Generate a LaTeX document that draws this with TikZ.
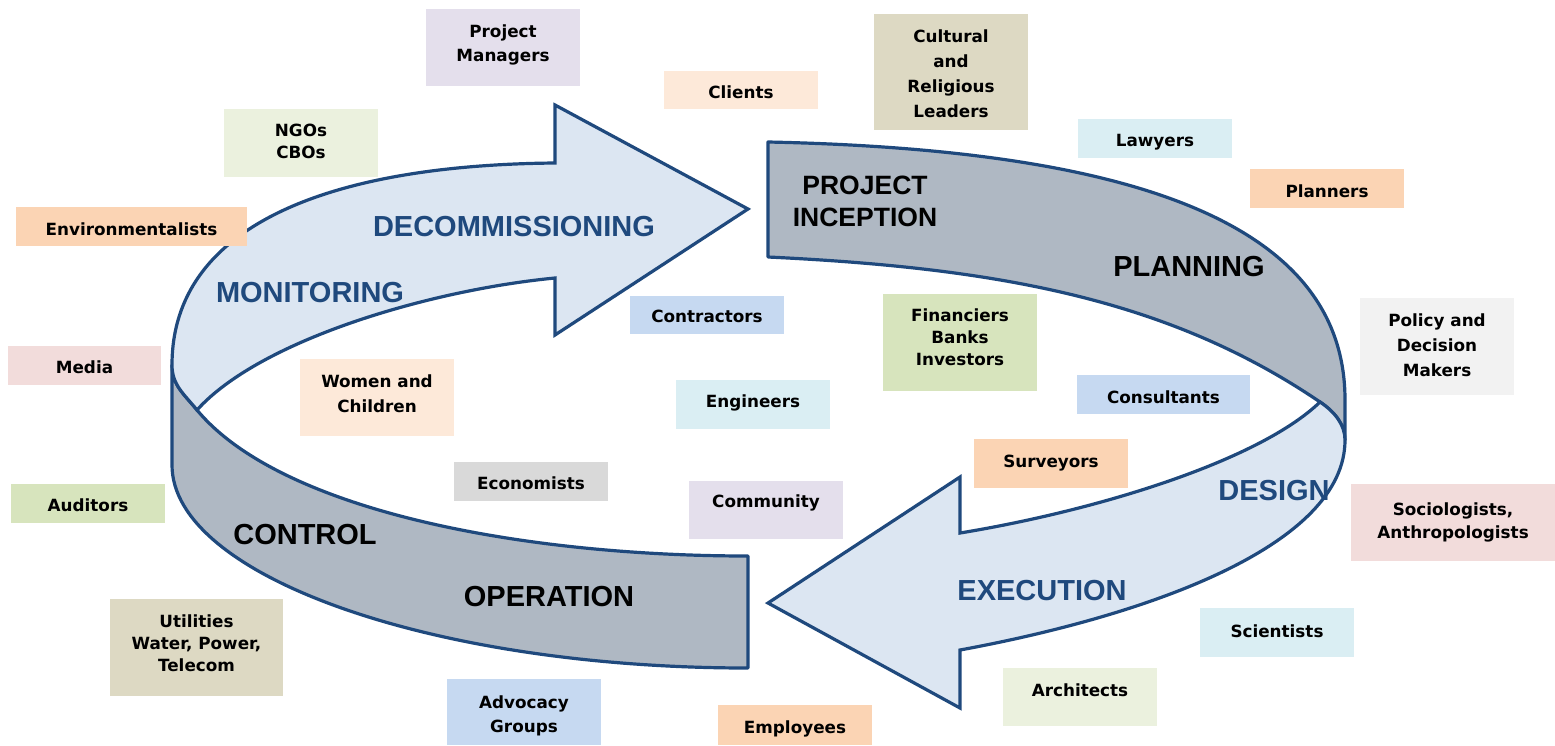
\documentclass[tikz,border=0pt]{standalone}
\usepackage{fontspec}
\newfontfamily\boxfont{DejaVu Sans}
\newfontfamily\arialfont{Liberation Sans}
\definecolor{arrowline}{HTML}{1F497D}
\definecolor{titleblue}{HTML}{1F497D}
\definecolor{arrowblue}{HTML}{DCE6F2}
\definecolor{bandgrey}{HTML}{AFB8C3}
\definecolor{cLav}{HTML}{E4DFEC}
\definecolor{cPeachL}{HTML}{FDE9D9}
\definecolor{cTan}{HTML}{DDD9C3}
\definecolor{cCyan}{HTML}{DAEEF3}
\definecolor{cPeach}{HTML}{FBD4B4}
\definecolor{cGreenL}{HTML}{EBF1DE}
\definecolor{cBlue}{HTML}{C6D9F1}
\definecolor{cGreen}{HTML}{D7E4BD}
\definecolor{cGreyL}{HTML}{F2F2F2}
\definecolor{cPink}{HTML}{F2DCDB}
\definecolor{cGrey}{HTML}{D9D9D9}
\begin{document}
\begin{tikzpicture}[x=1pt,y=-1pt,
  bandshape/.style={draw=arrowline, line width=3.2pt, line join=round, fill=bandgrey},
  arrowshape/.style={draw=arrowline, line width=3.2pt, line join=miter, fill=arrowblue},
  stk/.style={fill=#1, inner sep=0pt},
  stxt/.style={inner sep=0pt, align=center, text=black,
    font=\boxfont\bfseries\fontsize{16.8}{24.5}\selectfont},
  sp22/.style={font=\boxfont\bfseries\fontsize{16.8}{22}\selectfont},
  sp25/.style={font=\boxfont\bfseries\fontsize{16.8}{25}\selectfont},
  sp23/.style={font=\boxfont\bfseries\fontsize{16.8}{23}\selectfont},
  bigblue/.style={inner sep=0pt, align=center, text=titleblue,
    font=\arialfont\bfseries\fontsize{29}{32}\selectfont},
  bigblack/.style={inner sep=0pt, align=center, text=black,
    font=\arialfont\bfseries\fontsize{29}{32}\selectfont}]
\useasboundingbox (0,0) rectangle (1555,745);
\fill[white] (0,0) rectangle (1555,745);

% left grey band (control / operation)
\path[bandshape] (172,365) -- (172,465) .. controls (172,575) and (430,668) .. (748,668)
  -- (748,556) .. controls (520,556) and (280,510) .. (197,410)
  .. controls (184,394) and (172,385) .. (172,365) -- cycle;
% top arrow (monitoring / decommissioning)
\path[arrowshape] (172,365) .. controls (172,225) and (330,165) .. (555,163)
  -- (555,105) -- (748,209) -- (555,335) -- (555,278)
  .. controls (430,290) and (260,340) .. (197,410)
  .. controls (184,394) and (172,385) .. (172,365) -- cycle;
% right grey band (inception / planning)
\path[bandshape] (768,142) .. controls (1150,150) and (1345,230) .. (1345,400)
  -- (1345,440) .. controls (1345,425) and (1335,412) .. (1320,402)
  .. controls (1170,300) and (1000,268) .. (768,257) -- cycle;
% lower arrow (design / execution)
\path[arrowshape] (1320,402) .. controls (1335,412) and (1345,425) .. (1345,440)
  .. controls (1345,545) and (1150,615) .. (960,650)
  -- (960,708) -- (768,603) -- (960,477) -- (960,533)
  .. controls (1100,510) and (1260,460) .. (1320,402) -- cycle;

% phase labels
\node[bigblue] (decom) at (514,227) {DECOMMISSIONING};
\node[bigblue] (monit) at (310,293) {MONITORING};
\node[bigblue] (design) at (1274,491) {DESIGN};
\node[bigblue] (exec) at (1042,591) {EXECUTION};
\node[bigblack, font=\arialfont\bfseries\fontsize{26.5}{32}\selectfont] (incep) at (865,201) {PROJECT\\INCEPTION};
\node[bigblack] (plan) at (1189,267) {PLANNING};
\node[bigblack] (contr) at (305,535) {CONTROL};
\node[bigblack] (oper) at (549,597) {OPERATION};

% stakeholders
\node[stk=cLav, minimum width=154pt, minimum height=77pt, label={[stxt, yshift=2.5pt]center:{Project\\Managers}}] (pm) at (503,47.5) {};
\node[stk=cPeachL, minimum width=154pt, minimum height=38pt, label={[stxt, yshift=-2pt]center:{Clients}}] (cli) at (741,90) {};
\node[stk=cTan, minimum width=154pt, minimum height=116pt, label={[stxt, sp25, yshift=-1.5pt]center:{Cultural\\and\\Religious\\Leaders}}] (cult) at (951,72) {};
\node[stk=cCyan, minimum width=154pt, minimum height=39pt, label={[stxt, yshift=-3.5pt]center:{Lawyers}}] (law) at (1155,138.5) {};
\node[stk=cPeach, minimum width=154pt, minimum height=39pt, label={[stxt, yshift=-3pt]center:{Planners}}] (plnr) at (1327,188.5) {};
\node[stk=cGreenL, minimum width=154pt, minimum height=68pt, label={[stxt, sp22, yshift=2pt]center:{NGOs\\CBOs}}] (ngo) at (301,143) {};
\node[stk=cPeach, minimum width=231pt, minimum height=39pt, label={[stxt, yshift=-3pt]center:{Environmentalists}}] (env) at (131.5,226.5) {};
\node[stk=cBlue, minimum width=154pt, minimum height=38pt, label={[stxt, yshift=-1pt]center:{Contractors}}] (cont) at (707,315) {};
\node[stk=cGreen, minimum width=154pt, minimum height=97pt, label={[stxt, sp22, yshift=5pt]center:{Financiers\\Banks\\Investors}}] (fin) at (960,342.5) {};
\node[stk=cGreyL, minimum width=154pt, minimum height=97pt, label={[stxt, sp25, yshift=1pt]center:{Policy and\\Decision\\Makers}}] (pol) at (1437,346.5) {};
\node[stk=cPink, minimum width=153pt, minimum height=39pt, label={[stxt, yshift=-2pt]center:{Media}}] (med) at (84.5,365.5) {};
\node[stk=cPeachL, minimum width=154pt, minimum height=77pt, label={[stxt, sp25, yshift=4pt]center:{Women and\\Children}}] (wom) at (377,397.5) {};
\node[stk=cCyan, minimum width=154pt, minimum height=49pt, label={[stxt, yshift=2pt]center:{Engineers}}] (eng) at (753,404.5) {};
\node[stk=cBlue, minimum width=173pt, minimum height=39pt, label={[stxt, yshift=-3pt]center:{Consultants}}] (cons) at (1163.5,394.5) {};
\node[stk=cPeach, minimum width=154pt, minimum height=49pt, label={[stxt]center:{Surveyors}}] (surv) at (1051,463.5) {};
\node[stk=cGrey, minimum width=154pt, minimum height=39pt, label={[stxt, yshift=-2pt]center:{Economists}}] (econ) at (531,481.5) {};
\node[stk=cLav, minimum width=154pt, minimum height=58pt, label={[stxt, yshift=7pt]center:{Community}}] (comm) at (766,510) {};
\node[stk=cGreen, minimum width=154pt, minimum height=39pt, label={[stxt, yshift=-2pt]center:{Auditors}}] (aud) at (88,503.5) {};
\node[stk=cPink, minimum width=204pt, minimum height=77pt, label={[stxt, sp23]center:{Sociologists,\\Anthropologists}}] (soc) at (1453,522.5) {};
\node[stk=cTan, minimum width=173pt, minimum height=97pt, label={[stxt, sp22, yshift=4pt]center:{Utilities\\Water, Power,\\Telecom}}] (util) at (196.5,647.5) {};
\node[stk=cCyan, minimum width=154pt, minimum height=49pt, label={[stxt, yshift=1pt]center:{Scientists}}] (sci) at (1277,632.5) {};
\node[stk=cGreenL, minimum width=154pt, minimum height=58pt, label={[stxt, yshift=7pt]center:{Architects}}] (arch) at (1080,697) {};
\node[stk=cBlue, minimum width=154pt, minimum height=66pt, label={[stxt, yshift=-4pt]center:{Advocacy\\Groups}}] (adv) at (524,712) {};
\node[stk=cPeach, minimum width=154pt, minimum height=40pt, label={[stxt, yshift=-4pt]center:{Employees}}] (emp) at (795,725) {};
\end{tikzpicture}
\end{document}
